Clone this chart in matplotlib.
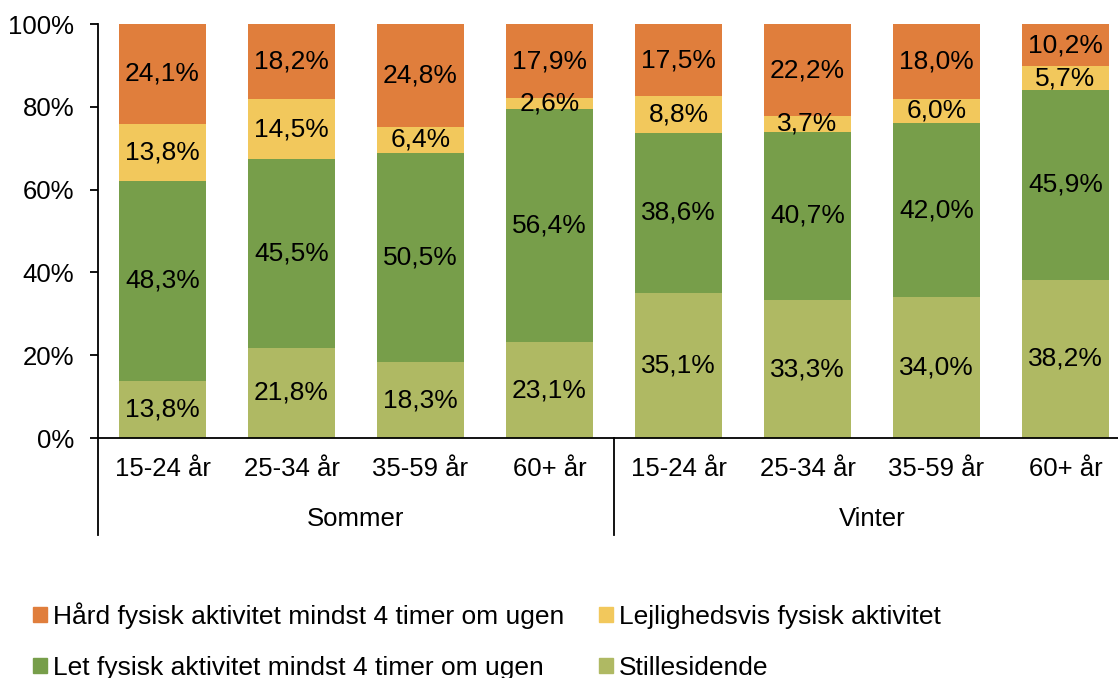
import matplotlib.pyplot as plt
import matplotlib.transforms as mtransforms
from matplotlib.patches import Patch
import numpy as np

plt.rcParams['font.family'] = ['Liberation Sans', 'DejaVu Sans']

age_groups = ["15-24 år", "25-34 år", "35-59 år", "60+ år",
              "15-24 år", "25-34 år", "35-59 år", "60+ år"]
seasons = ["Sommer", "Vinter"]

stillesidende = [13.8, 21.8, 18.3, 23.1, 35.1, 33.3, 34.0, 38.2]
let_aktiv = [48.3, 45.5, 50.5, 56.4, 38.6, 40.7, 42.0, 45.9]
lejlighedsvis = [13.8, 14.5, 6.4, 2.6, 8.8, 3.7, 6.0, 5.7]
haard = [24.1, 18.2, 24.8, 17.9, 17.5, 22.2, 18.0, 10.2]

series = [
    ("Stillesidende", stillesidende, "#AFB963"),
    ("Let fysisk aktivitet mindst 4 timer om ugen", let_aktiv, "#779E4A"),
    ("Lejlighedsvis fysisk aktivitet", lejlighedsvis, "#F2C85C"),
    ("Hård fysisk aktivitet mindst 4 timer om ugen", haard, "#E07E3C"),
]

fs = 18.5
fs_lab = 19
fig = plt.figure(figsize=(11.18, 6.78), dpi=100)
ax = fig.add_axes([98 / 1118, 1 - 438 / 678, 1032 / 1118, 414 / 678])

x = np.arange(len(age_groups))
bottom = np.zeros(len(x))
for name, vals, col in series:
    vals = np.array(vals)
    ax.bar(x, vals, 0.667, bottom=bottom, color=col, label=name)
    for xi, b, v in zip(x, bottom, vals):
        ax.text(xi, b + v / 2, f"{v:.1f}%".replace(".", ","),
                ha="center", va="center", fontsize=fs_lab, color="black")
    bottom += vals

ax.set_xlim(-0.5, 7.5)
ax.set_ylim(0, 100)
ax.set_yticks([0, 20, 40, 60, 80, 100])
ax.set_yticklabels([f"{t}%" for t in [0, 20, 40, 60, 80, 100]], fontsize=fs)
ax.set_xticks(x)
ax.set_xticklabels(age_groups, fontsize=fs)
ax.tick_params(axis="x", length=0, pad=14)
ax.tick_params(axis="y", length=6, width=1.3, direction="out", pad=11)
for s in ["top", "right"]:
    ax.spines[s].set_visible(False)
ax.spines["left"].set_linewidth(1.3)
ax.spines["bottom"].set_linewidth(1.3)

# group separators and season labels under the axis
trans = mtransforms.blended_transform_factory(ax.transData, ax.transAxes)
for xs in [-0.5, 3.5]:
    ax.plot([xs, xs], [0, -97 / 414], transform=trans, color="black",
            lw=1.3, clip_on=False)
for i, s in enumerate(seasons):
    ax.text(1.5 + 4 * i, -81 / 414, s, transform=trans, ha="center",
            va="center", fontsize=fs)

order = [3, 1, 2, 0]
handles = [Patch(color=series[i][2], label=series[i][0]) for i in order]
fig.legend(handles=handles, ncol=2, loc="upper left",
           bbox_to_anchor=(33 / 1118, 1 - 602 / 678), frameon=False,
           fontsize=fs_lab, handlelength=0.53, handleheight=0.53,
           handletextpad=0.23, labelspacing=1.03, columnspacing=1.3,
           borderaxespad=0, borderpad=0)

fig.savefig("out.png", dpi=100)
